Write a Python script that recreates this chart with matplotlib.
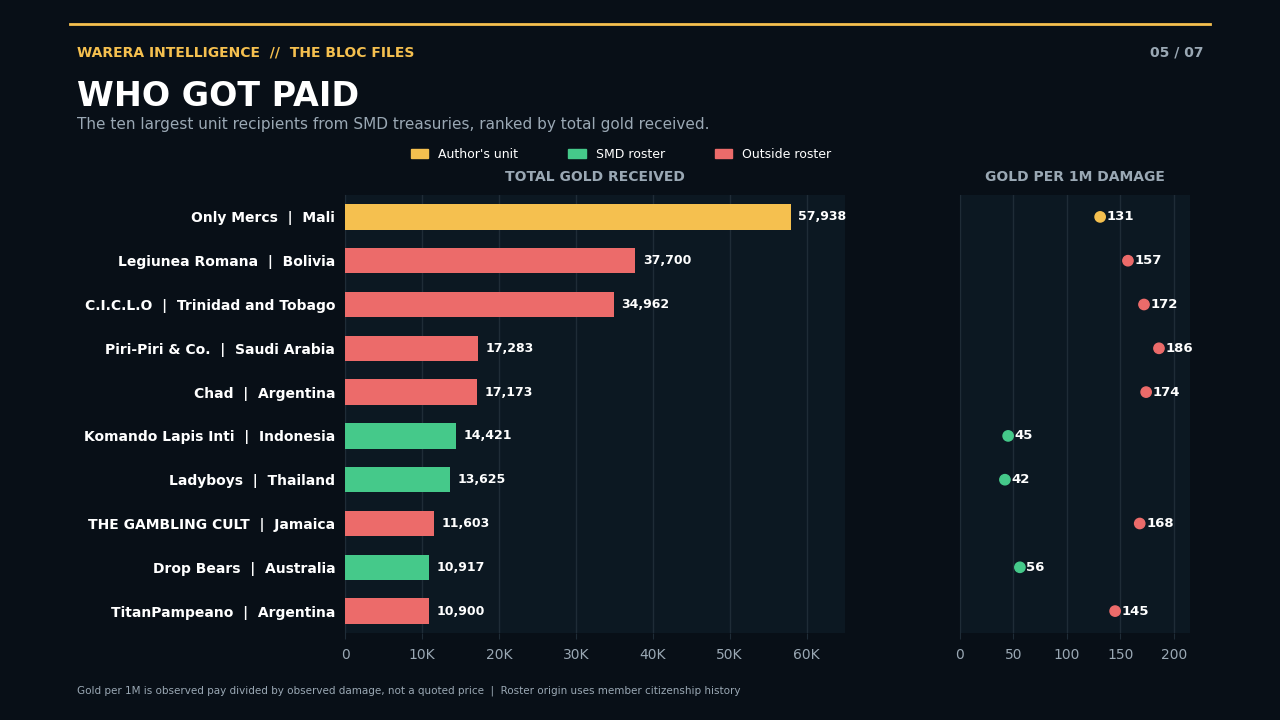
import matplotlib
matplotlib.use("Agg")
import matplotlib.pyplot as plt
from matplotlib.patches import Patch

units = ["Only Mercs  |  Mali", "Legiunea Romana  |  Bolivia", "C.I.C.L.O  |  Trinidad and Tobago",
         "Piri-Piri & Co.  |  Saudi Arabia", "Chad  |  Argentina", "Komando Lapis Inti  |  Indonesia",
         "Ladyboys  |  Thailand", "THE GAMBLING CULT  |  Jamaica", "Drop Bears  |  Australia",
         "TitanPampeano  |  Argentina"]
gold = [57938, 37700, 34962, 17283, 17173, 14421, 13625, 11603, 10917, 10900]
per1m = [131, 157, 172, 186, 174, 45, 42, 168, 56, 145]
group = ["author", "out", "out", "out", "out", "smd", "smd", "out", "smd", "out"]
colors = {"author": "#f5c04f", "smd": "#45c98a", "out": "#ec6b6a"}
x1_ticks = [0, 10000, 20000, 30000, 40000, 50000, 60000]
x1_labels = ["0", "10K", "20K", "30K", "40K", "50K", "60K"]
x2_ticks = [0, 50, 100, 150, 200]

BG = "#080f17"; AX = "#0c1822"; GRID = "#1f2c37"; TXT = "#9aa8b4"
fig = plt.figure(figsize=(12.8, 7.2), dpi=100, facecolor=BG)
cols = [colors[g] for g in group]
ys = list(range(len(units)))

ax = fig.add_axes([345/1280, 1-633/720, 500/1280, 438/720], facecolor=AX)
ax.barh(ys, gold, color=cols, height=0.58, zorder=3)
ax.set_ylim(len(units)-0.5, -0.5)
ax.set_xlim(0, 65000)
ax.set_yticks(ys); ax.set_yticklabels(units, color="white", fontsize=10, fontweight="bold")
ax.set_xticks(x1_ticks); ax.set_xticklabels(x1_labels, color=TXT, fontsize=10)
for y, v in zip(ys, gold):
    ax.text(v + 1000, y, f"{v:,}", va="center", ha="left", color="white", fontsize=9, fontweight="bold")
ax.set_title("TOTAL GOLD RECEIVED", color=TXT, fontsize=10, fontweight="bold", pad=10)

ax2 = fig.add_axes([960/1280, 1-633/720, 230/1280, 438/720], facecolor=AX)
ax2.scatter(per1m, ys, c=cols, s=55, zorder=3)
for y, v in zip(ys, per1m):
    ax2.text(v + 6, y, str(v), va="center", ha="left", color="white", fontsize=9.5, fontweight="bold")
ax2.set_ylim(len(units)-0.5, -0.5)
ax2.set_xlim(0, 215)
ax2.set_yticks([])
ax2.set_xticks(x2_ticks); ax2.set_xticklabels([str(t) for t in x2_ticks], color=TXT, fontsize=10)
ax2.set_title("GOLD PER 1M DAMAGE", color=TXT, fontsize=10, fontweight="bold", pad=10)

for a in (ax, ax2):
    a.grid(axis="x", color=GRID, linewidth=1, zorder=0)
    for s in a.spines.values(): s.set_visible(False)
    a.spines["left"].set_visible(True); a.spines["left"].set_color(GRID)
    a.tick_params(length=0, pad=7)
    a.tick_params(axis="x", length=4, color=GRID)

fig.add_artist(plt.Line2D([70/1280, 1210/1280], [1-24/720]*2, color="#f5c04f", lw=2))
fig.text(77/1280, 1-52/720, "WARERA INTELLIGENCE  //  THE BLOC FILES", color="#f5c04f", fontsize=10, fontweight="bold", va="center")
fig.text(1203/1280, 1-52/720, "05 / 07", color=TXT, fontsize=10, fontweight="bold", va="center", ha="right")
fig.text(77/1280, 1-97/720, "WHO GOT PAID", color="white", fontsize=24, fontweight="bold", va="center")
fig.text(77/1280, 1-125/720, "The ten largest unit recipients from SMD treasuries, ranked by total gold received.", color=TXT, fontsize=11, va="center")
fig.text(77/1280, 1-691/720, "Gold per 1M is observed pay divided by observed damage, not a quoted price  |  Roster origin uses member citizenship history", color=TXT, fontsize=7.5, va="center")

handles = [Patch(color=colors["author"], label="Author's unit"), Patch(color=colors["smd"], label="SMD roster"),
           Patch(color=colors["out"], label="Outside roster")]
fig.legend(handles=handles, loc="center", bbox_to_anchor=(621/1280, 1-154/720), ncol=3, frameon=False,
           labelcolor="white", fontsize=9, handlelength=1.4, handleheight=0.7, columnspacing=4)
fig.savefig("out.png", dpi=100, facecolor=BG)
